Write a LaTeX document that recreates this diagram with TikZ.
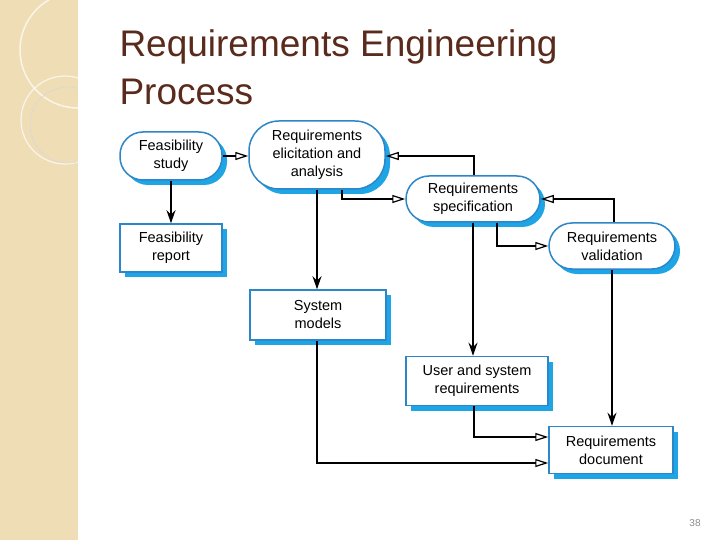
\documentclass[tikz,border=0pt]{standalone}
\usepackage{fontspec}
\setmainfont{Liberation Sans}
\usetikzlibrary{arrows.meta,shadows}
\definecolor{strip}{HTML}{EFDDB6}
\definecolor{titlec}{HTML}{5A2A1C}
\definecolor{bord}{HTML}{2C86C8}
\definecolor{shad}{HTML}{1EA5E6}
\begin{document}
\begin{tikzpicture}[x=1pt,y=-1pt,
  box/.style={draw=bord,line width=1.5pt,fill=white,minimum width=#1,align=center,
    font=\fontsize{14.5}{18}\selectfont,inner sep=2pt,
    copy shadow={shadow xshift=5pt,shadow yshift=-5pt,fill=shad,draw=none}},
  act/.style={box=#1,rounded corners=23pt,minimum height=48pt},
  doc/.style={box=#1,minimum height=48pt},
  fa/.style={-{Stealth[length=13pt,width=9pt]},line width=1.2pt},
  oa/.style={-{Triangle[open,length=13pt,width=8pt]},line width=1.2pt}]
\useasboundingbox (0,0) rectangle (720,540);
\fill[white] (0,0) rectangle (720,540);
\fill[strip] (0,0) rectangle (78,540);
\begin{scope}
\clip (0,0) rectangle (78,540);
\draw[white,opacity=0.7,line width=1.5pt] (78,50) circle (58);
\draw[white,opacity=0.7,line width=1.2pt] (65,120) circle (44);
\draw[black!15,line width=0.6pt] (68,125) circle (38);
\end{scope}
\node[anchor=west,text=titlec,font=\fontsize{37}{40}\selectfont] (t1) at (116,47) {Requirements Engineering};
\node[anchor=west,text=titlec,font=\fontsize{37}{40}\selectfont] (t2) at (116,92) {Process};
\node[text=black!45,font=\fontsize{10}{12}\selectfont] (pg) at (695,523) {38};

\node[act=102pt] (fs) at (171,156) {Feasibility\\study};
\node[act=136pt,minimum height=68pt,rounded corners=30pt] (re) at (317,155) {Requirements\\elicitation and\\analysis};
\node[act=134pt,minimum height=46pt] (rs) at (473,199) {Requirements\\specification};
\node[act=126pt,minimum height=46pt] (rv) at (612,246) {Requirements\\validation};
\node[doc=102pt] (fr) at (171,248) {Feasibility\\report};
\node[doc=136pt,minimum height=50pt] (sm) at (318,315) {System\\models};
\node[doc=142pt,minimum height=49pt] (us) at (477,381) {User and system\\requirements};
\node[doc=124pt,minimum height=47pt] (rd) at (611,450) {Requirements\\document};

\draw[oa] (fs.east) -- (re.west |- fs.east);
\draw[fa] (fs.south) -- (fr.north);
\draw[fa] (re.south -| 317,0) -- (sm.north -| 317,0);
\draw[oa] (re.south -| 342,0) |- (rs.west);
\draw[oa] (rs.north -| 474,0) |- (re.east |- 0,156);
\draw[fa] (rs.south -| 473,0) -- (us.north -| 473,0);
\draw[oa] (rs.south -| 497,0) |- (rv.west);
\draw[oa] (rv.north -| 614,0) |- (rs.east);
\draw[fa] (rv.south) -- (rd.north -| rv.south);
\draw[oa] (us.south -| 474,0) |- (rd.west |- 0,437);
\draw[oa] (sm.south -| 317,0) |- (rd.west |- 0,463);
\end{tikzpicture}
\end{document}
